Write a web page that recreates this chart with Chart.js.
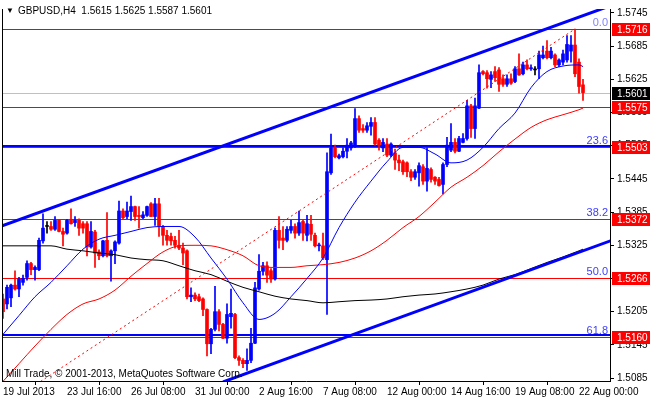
<!DOCTYPE html>
<html>
<head>
<meta charset="utf-8">
<script src="https://cdn.jsdelivr.net/npm/chart.js@4.4.0/dist/chart.umd.min.js"></script>
<style>
  html, body { margin: 0; padding: 0; background: #fff; }
</style>
</head>
<body>
<canvas id="chart" width="650" height="400"></canvas>
<script>
// GBPUSD H4 candles, 19 Jul 2013 00:00 .. 22 Aug 2013 04:00 (bar index 0..145)
const opens = [1.5228,1.5219,1.5230,1.5253,1.5246,1.5258,1.5267,1.5292,1.5281,1.5281,
  1.5333,1.5359,1.5359,1.5354,1.5370,1.5350,1.5347,1.5372,1.5366,1.5370,
  1.5364,1.5364,1.5322,1.5349,1.5313,1.5306,1.5334,1.5306,1.5315,1.5329,
  1.5387,1.5377,1.5386,1.5395,1.5379,1.5375,1.5379,1.5400,1.5377,1.5400,
  1.5359,1.5343,1.5341,1.5334,1.5325,1.5320,1.5315,1.5232,1.5235,1.5232,
  1.5228,1.5209,1.5147,1.5173,1.5205,1.5182,1.5157,1.5196,1.5200,1.5122,
  1.5117,1.5111,1.5117,1.5148,1.5246,1.5278,1.5288,1.5279,1.5264,1.5352,
  1.5338,1.5334,1.5352,1.5359,1.5347,1.5368,1.5343,1.5363,1.5343,1.5324,
  1.5324,1.5299,1.5456,1.5501,1.5483,1.5485,1.5495,1.5501,1.5506,1.5554,
  1.5536,1.5533,1.5540,1.5547,1.5515,1.5501,1.5508,1.5488,1.5492,1.5479,
  1.5476,1.5474,1.5458,1.5448,1.5456,1.5467,1.5441,1.5462,1.5448,1.5444,
  1.5435,1.5471,1.5497,1.5511,1.5495,1.5511,1.5518,1.5577,1.5536,1.5573,
  1.5639,1.5637,1.5625,1.5639,1.5642,1.5626,1.5616,1.5626,1.5621,1.5644,
  1.5635,1.5651,1.5644,1.5642,1.5644,1.5664,1.5676,1.5664,1.5669,1.5651,
  1.5656,1.5660,1.5676,1.5687,1.5656,1.5615];
const highs = [1.5237,1.5253,1.5255,1.5279,1.5267,1.5271,1.5297,1.5294,1.5288,1.5338,
  1.5382,1.5368,1.5368,1.5377,1.5372,1.5356,1.5372,1.5391,1.5377,1.5373,
  1.5368,1.5368,1.5368,1.5352,1.5317,1.5334,1.5384,1.5317,1.5333,1.5405,
  1.5391,1.5403,1.5414,1.5396,1.5395,1.5386,1.5396,1.5402,1.5410,1.5410,
  1.5361,1.5352,1.5347,1.5341,1.5352,1.5329,1.5317,1.5248,1.5239,1.5237,
  1.5230,1.5210,1.5175,1.5251,1.5209,1.5184,1.5219,1.5246,1.5202,1.5125,
  1.5120,1.5138,1.5175,1.5258,1.5308,1.5294,1.5295,1.5283,1.5356,1.5377,
  1.5359,1.5359,1.5370,1.5364,1.5387,1.5370,1.5379,1.5379,1.5347,1.5329,
  1.5347,1.5492,1.5526,1.5506,1.5490,1.5501,1.5518,1.5513,1.5572,1.5559,
  1.5543,1.5547,1.5556,1.5556,1.5518,1.5518,1.5518,1.5510,1.5499,1.5488,
  1.5479,1.5476,1.5462,1.5462,1.5474,1.5471,1.5501,1.5465,1.5449,1.5448,
  1.5474,1.5520,1.5545,1.5518,1.5522,1.5527,1.5587,1.5580,1.5591,1.5651,
  1.5641,1.5641,1.5639,1.5648,1.5646,1.5633,1.5633,1.5635,1.5648,1.5671,
  1.5656,1.5660,1.5651,1.5648,1.5676,1.5685,1.5695,1.5683,1.5671,1.5662,
  1.5678,1.5704,1.5704,1.5716,1.5662,1.5625];
const lows = [1.5193,1.5210,1.5214,1.5244,1.5232,1.5253,1.5262,1.5272,1.5262,1.5279,
  1.5329,1.5347,1.5352,1.5352,1.5349,1.5324,1.5345,1.5363,1.5359,1.5343,
  1.5347,1.5306,1.5320,1.5285,1.5299,1.5304,1.5304,1.5260,1.5292,1.5327,
  1.5373,1.5373,1.5370,1.5370,1.5356,1.5373,1.5377,1.5377,1.5361,1.5341,
  1.5325,1.5325,1.5325,1.5320,1.5317,1.5290,1.5228,1.5223,1.5225,1.5223,
  1.5198,1.5125,1.5129,1.5170,1.5170,1.5156,1.5148,1.5175,1.5120,1.5108,
  1.5104,1.5099,1.5113,1.5147,1.5244,1.5271,1.5258,1.5258,1.5262,1.5320,
  1.5317,1.5331,1.5347,1.5338,1.5343,1.5334,1.5333,1.5334,1.5322,1.5315,
  1.5299,1.5200,1.5453,1.5483,1.5481,1.5483,1.5483,1.5497,1.5502,1.5529,
  1.5529,1.5529,1.5524,1.5506,1.5497,1.5494,1.5485,1.5485,1.5462,1.5460,
  1.5453,1.5449,1.5442,1.5444,1.5432,1.5435,1.5423,1.5439,1.5435,1.5432,
  1.5418,1.5467,1.5494,1.5492,1.5494,1.5510,1.5515,1.5520,1.5518,1.5572,
  1.5633,1.5609,1.5610,1.5621,1.5603,1.5612,1.5612,1.5616,1.5619,1.5632,
  1.5633,1.5642,1.5641,1.5633,1.5626,1.5662,1.5662,1.5662,1.5648,1.5648,
  1.5651,1.5656,1.5656,1.5630,1.5600,1.5587];
const closes = [1.5205,1.5249,1.5253,1.5246,1.5264,1.5265,1.5292,1.5281,1.5285,1.5334,
  1.5356,1.5359,1.5354,1.5370,1.5350,1.5345,1.5370,1.5364,1.5370,1.5356,
  1.5356,1.5322,1.5350,1.5311,1.5306,1.5333,1.5306,1.5315,1.5331,1.5387,
  1.5375,1.5387,1.5395,1.5377,1.5377,1.5380,1.5395,1.5377,1.5400,1.5359,
  1.5343,1.5334,1.5333,1.5325,1.5320,1.5311,1.5232,1.5235,1.5228,1.5225,
  1.5209,1.5147,1.5173,1.5205,1.5182,1.5157,1.5200,1.5202,1.5122,1.5117,
  1.5111,1.5117,1.5148,1.5248,1.5278,1.5288,1.5271,1.5264,1.5352,1.5334,
  1.5334,1.5354,1.5359,1.5347,1.5366,1.5347,1.5364,1.5345,1.5324,1.5325,
  1.5302,1.5458,1.5501,1.5485,1.5487,1.5495,1.5506,1.5510,1.5554,1.5533,
  1.5533,1.5541,1.5547,1.5508,1.5506,1.5511,1.5488,1.5508,1.5479,1.5474,
  1.5458,1.5458,1.5448,1.5458,1.5469,1.5441,1.5464,1.5444,1.5441,1.5433,
  1.5471,1.5506,1.5511,1.5495,1.5518,1.5518,1.5577,1.5536,1.5577,1.5637,
  1.5635,1.5626,1.5633,1.5628,1.5616,1.5616,1.5626,1.5618,1.5644,1.5633,
  1.5651,1.5644,1.5646,1.5642,1.5669,1.5669,1.5664,1.5676,1.5651,1.5660,
  1.5671,1.5688,1.5687,1.5635,1.5612,1.5601];

// moving averages every 4 bars
const maIdx = [0,4,8,12,16,20,24,28,32,36,40,44,48,52,56,60,64,68,72,76,80,84,88,92,96,100,104,108,112,116,120,124,128,132,136,140,144,145];
const maFast = [1.5164,1.5198,1.5232,1.5258,1.5288,1.5318,1.5336,1.5343,1.5350,1.5357,1.5359,1.5359,1.5340,1.5302,1.5264,1.5221,1.5191,1.5202,1.5232,
  1.5265,1.5302,1.5357,1.5403,1.5441,1.5476,1.5502,1.5502,1.5490,1.5474,1.5479,1.5502,1.5536,1.5564,1.5610,1.5639,1.5649,1.5651,1.5648];
const maMid = [1.5079,1.5111,1.5143,1.5173,1.5200,1.5219,1.5228,1.5244,1.5269,1.5292,1.5313,1.5324,1.5325,1.5324,1.5317,1.5306,1.5288,1.5285,1.5285,
  1.5288,1.5290,1.5294,1.5302,1.5315,1.5334,1.5357,1.5377,1.5403,1.5430,1.5448,1.5469,1.5494,1.5517,1.5538,1.5552,1.5561,1.5570,1.5573];
const maSlow = [1.5324,1.5324,1.5324,1.5324,1.5318,1.5315,1.5311,1.5308,1.5302,1.5299,1.5297,1.5288,1.5279,1.5272,1.5260,1.5249,1.5241,1.5233,1.5228,
  1.5225,1.5221,1.5223,1.5225,1.5226,1.5228,1.5232,1.5235,1.5237,1.5241,1.5246,1.5253,1.5264,1.5272,1.5283,1.5294,1.5304,1.5315,1.5318];

// objects on the chart
const fibLevels = [1.5716, 1.5503, 1.5372, 1.5266, 1.5160];
const fibNames = ['0.0', '23.6', '38.2', '50.0', '61.8'];
const otherLevels = [1.5575];
const blueLevels = [1.5505, 1.5162];
const bidPrice = 1.5601;
const upperChannel = [{x: -1, y: 1.5358}, {x: 153, y: 1.5761}];
const lowerChannel = [{x: 55, y: 1.5078}, {x: 153, y: 1.5336}];
const fibDiagonal = [{x: 0, y: 1.5034}, {x: 143, y: 1.5716}];

const yTicks = [1.5085,1.5145,1.5205,1.5265,1.5325,1.5385,1.5445,1.5505,1.5565,1.5625,1.5685,1.5745];
const xTickIdx = [0,16,32,48,64,80,96,112,128,144];
const xTickLabels = ['19 Jul 2013','23 Jul 16:00','26 Jul 08:00','31 Jul 00:00','2 Aug 16:00',
  '7 Aug 08:00','12 Aug 00:00','14 Aug 16:00','19 Aug 08:00','22 Aug 00:00'];
const header = 'GBPUSD,H4  1.5615 1.5625 1.5587 1.5601';
const copyright = 'Mill Trade, \u00a9 2001-2013, MetaQuotes Software Corp.';

const FONT = '"Liberation Sans", "DejaVu Sans", sans-serif';
Chart.defaults.font.family = FONT;
Chart.defaults.font.size = 10;
Chart.defaults.color = '#000';

const candleColor = opens.map((o, i) => closes[i] > o ? '#0000ff' : (closes[i] < o ? '#ff0000' : '#000000'));
const bodies = opens.map((o, i) => ({x: i, y: [o, closes[i]]}));
const wicks = opens.map((o, i) => ({x: i, y: [lows[i], highs[i]]}));
const maPoints = arr => arr.map((v, k) => ({x: maIdx[k], y: v}));

function lineSet(data, color, width, order, extra) {
  return Object.assign({type: 'line', data: data, borderColor: color, borderWidth: width,
    pointRadius: 0, fill: false, order: order}, extra || {});
}

const datasets = [
  {type: 'bar', data: wicks, backgroundColor: candleColor, barThickness: 1, grouped: false, order: 12},
  {type: 'bar', data: bodies, backgroundColor: candleColor, barThickness: 3, minBarLength: 1, grouped: false, order: 11},
  lineSet(maPoints(maSlow), '#000000', 1, 6, {cubicInterpolationMode: 'monotone'}),
  lineSet(maPoints(maMid), '#ff0000', 1, 5, {cubicInterpolationMode: 'monotone'}),
  lineSet(maPoints(maFast), '#0000ff', 1, 4, {cubicInterpolationMode: 'monotone'}),
  lineSet(fibDiagonal, '#ff0000', 1, 3, {borderDash: [2, 3]}),
  lineSet(upperChannel, '#0000ff', 3, 1),
  lineSet(lowerChannel, '#0000ff', 3, 1)
];

// horizontal levels, snapped to whole pixels so they stay crisp like the terminal draws them
const levels = {
  id: 'levels',
  beforeDatasetsDraw(chart) {
    const ctx = chart.ctx, area = chart.chartArea, ys = chart.scales.y;
    const rows = [[bidPrice, '#c0c0c0', 1]]
      .concat(otherLevels.concat(fibLevels).map(v => [v, '#ff0000', 1]))
      .concat(blueLevels.map(v => [v, '#0000ff', 2]));
    ctx.save();
    rows.forEach(([v, col, w]) => {
      const y = Math.round(ys.getPixelForValue(v)) + (w % 2 ? 0.5 : 0);
      ctx.strokeStyle = col;
      ctx.lineWidth = w;
      ctx.beginPath();
      ctx.moveTo(area.left, y);
      ctx.lineTo(area.right, y);
      ctx.stroke();
    });
    ctx.restore();
  }
};

const overlay = {
  id: 'overlay',
  afterDraw(chart) {
    const ctx = chart.ctx, area = chart.chartArea, ys = chart.scales.y;
    ctx.save();
    // left frame
    ctx.strokeStyle = '#000';
    ctx.lineWidth = 1;
    ctx.beginPath();
    ctx.moveTo(area.left + 0.5, area.top);
    ctx.lineTo(area.left + 0.5, area.bottom);
    ctx.stroke();

    ctx.textBaseline = 'middle';
    // fibo level names
    ctx.font = '11px ' + FONT;
    ctx.textAlign = 'right';
    fibLevels.forEach((v, k) => {
      ctx.fillStyle = k === 0 ? '#8080ff' : '#3c3cff';
      ctx.fillText(fibNames[k], area.right - 2, Math.round(ys.getPixelForValue(v)) - 6);
    });
    // price boxes on the right scale
    ctx.font = '10px ' + FONT;
    ctx.textAlign = 'left';
    const boxes = fibLevels.concat(otherLevels).map(v => [v, '#ff0000']).concat([[bidPrice, '#000000']]);
    boxes.forEach(([v, col]) => {
      const y = Math.round(ys.getPixelForValue(v));
      ctx.fillStyle = col;
      ctx.fillRect(area.right + 2, y - 6, 40, 13);
      ctx.fillStyle = '#fff';
      ctx.fillText(v.toFixed(4), area.right + 7, y + 1);
    });
    // header and copyright
    ctx.fillStyle = '#000';
    ctx.font = '8px ' + FONT;
    ctx.fillText('\u25bc', 6, 11);
    ctx.font = '10px ' + FONT;
    ctx.fillText(header, 18, 11);
    ctx.fillText(copyright, 6, 374);
    ctx.restore();
  }
};

new Chart(document.getElementById('chart'), {
  type: 'bar',
  data: {datasets: datasets},
  options: {
    responsive: false,
    animation: false,
    events: [],
    layout: {padding: {left: 2, top: 1, right: 0, bottom: 0}},
    plugins: {legend: {display: false}, tooltip: {enabled: false}},
    scales: {
      x: {
        type: 'linear', min: -0.25, max: 151.75, offset: false,
        grid: {drawOnChartArea: false, drawTicks: true, tickLength: 4, color: '#000'},
        border: {color: '#000'},
        ticks: {autoSkip: false, maxRotation: 0, align: 'start', padding: 1,
          callback: v => xTickLabels[xTickIdx.indexOf(v)]},
        afterBuildTicks: s => { s.ticks = xTickIdx.map(v => ({value: v})); },
        afterFit: s => { s.height = 19; }
      },
      y: {
        position: 'right', min: 1.50797, max: 1.57521,
        grid: {drawOnChartArea: false, drawTicks: true, tickLength: 4, color: '#000'},
        border: {color: '#000'},
        ticks: {padding: 3, callback: v => v.toFixed(4)},
        afterBuildTicks: s => { s.ticks = yTicks.map(v => ({value: v})); },
        afterFit: s => { s.width = 40; }
      }
    }
  },
  plugins: [levels, overlay]
});
</script>
</body>
</html>
